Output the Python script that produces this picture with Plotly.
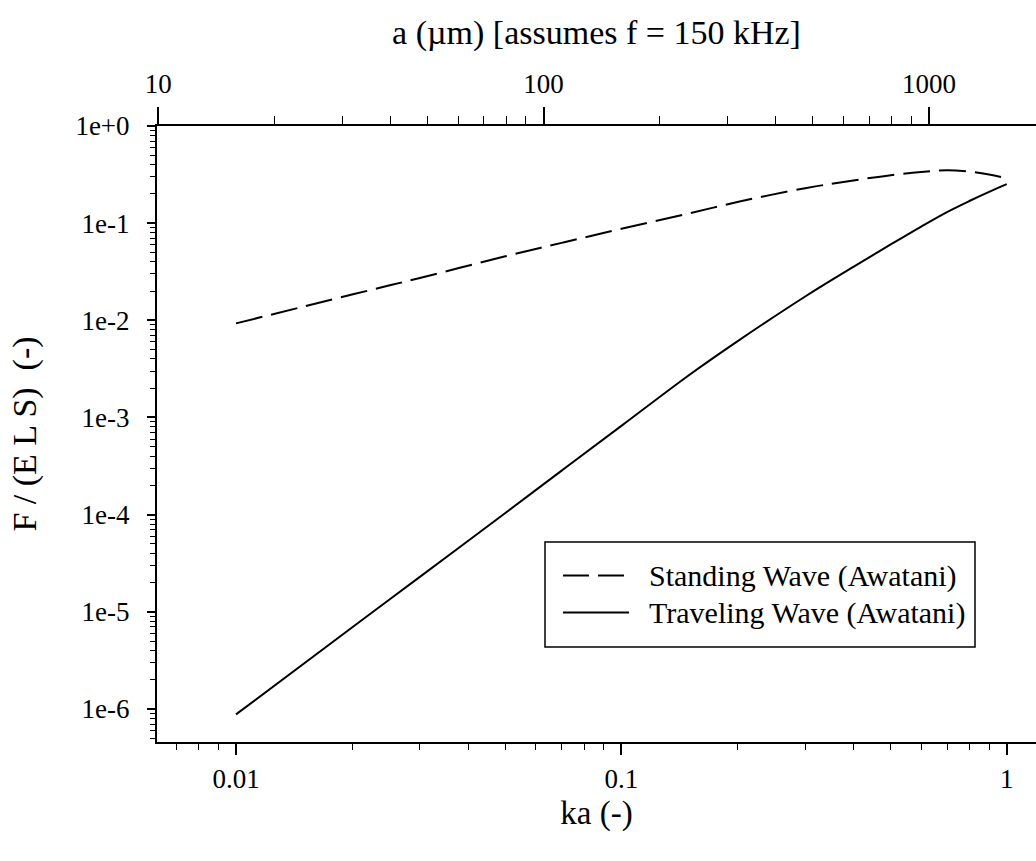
import math
import plotly.graph_objects as go

# ---- data ----
ka = [0.01, 0.02, 0.03, 0.05, 0.07, 0.1, 0.15, 0.2, 0.3, 0.4, 0.5, 0.6, 0.7, 0.8, 0.9, 1.0]
standing = [0.0093, 0.0184, 0.0273, 0.0456, 0.0627, 0.0875, 0.126, 0.165, 0.229,
            0.275, 0.312, 0.337, 0.350, 0.339, 0.317, 0.290]
traveling = [8.8e-7, 6.9e-6, 2.29e-5, 1.04e-4, 2.84e-4, 8.2e-4, 2.74e-3, 6.08e-3,
             0.0176, 0.0355, 0.0604, 0.0923, 0.130, 0.169, 0.210, 0.252]
series_names = ["Standing Wave (Awatani)", "Traveling Wave (Awatani)"]

x_tickvals = [0.01, 0.1, 1]
x_ticktext = ["0.01", "0.1", "1"]
top_tickvals = [10, 100, 1000]
top_ticktext = ["10", "100", "1000"]
y_tickvals = [1e-6, 1e-5, 1e-4, 1e-3, 1e-2, 1e-1, 1e0]
y_ticktext = ["1e-6", "1e-5", "1e-4", "1e-3", "1e-2", "1e-1", "1e+0"]

# a (um) = ka / k,  k = 2*pi*f/c  (f = 150 kHz, c = 1500 m/s)
f_hz = 150e3
c_um_s = 1500e6
k_um = 2 * math.pi * f_hz / c_um_s

x_range = [-2.205, 0.076]
y_range = [-6.34, 0.0]
top_range = [x_range[0] - math.log10(k_um), x_range[1] - math.log10(k_um)]

FONT = "Liberation Serif"

fig = go.Figure()
fig.add_trace(go.Scatter(x=ka, y=standing, mode="lines", name=series_names[0],
                         line=dict(color="black", width=2, dash="27px,9px", shape="spline"),
                         showlegend=False))
fig.add_trace(go.Scatter(x=ka, y=traveling, mode="lines", name=series_names[1],
                         line=dict(color="black", width=2, shape="spline"),
                         showlegend=False))
# carrier for the top axis
fig.add_trace(go.Scatter(x=[], y=[], xaxis="x2", yaxis="y", showlegend=False, hoverinfo="skip"))

W, H = 1036, 861
ml, mr, mt, mb = 157, 0, 126, 119
pw, ph = W - ml - mr, H - mt - mb


def px(xp):
    return (xp - ml) / pw


def py(yp):
    return (H - mb - yp) / ph


fig.update_layout(
    width=W, height=H,
    margin=dict(l=ml, r=mr, t=mt, b=mb, pad=0),
    paper_bgcolor="white", plot_bgcolor="white",
    font=dict(family=FONT, color="black", size=27),
    showlegend=False,
    xaxis=dict(
        type="log", range=x_range, showgrid=False, zeroline=False,
        showline=True, linecolor="black", linewidth=2,
        tickmode="array", tickvals=x_tickvals, ticktext=x_ticktext,
        ticks="outside", ticklen=11, tickwidth=1.5, tickcolor="black",
        ticklabelstandoff=1,
        tickfont=dict(size=27, family=FONT),
        minor=dict(dtick="D1", ticks="outside", ticklen=6, tickwidth=1.2,
                   tickcolor="black", showgrid=False),
        title=dict(text="ka (-)", font=dict(size=33, family=FONT), standoff=7),
        automargin=False,
    ),
    xaxis2=dict(
        type="log", range=top_range, overlaying="x", side="top", anchor="y",
        showgrid=False, zeroline=False,
        showline=True, linecolor="black", linewidth=2,
        tickmode="array", tickvals=top_tickvals, ticktext=top_ticktext,
        ticks="outside", ticklen=17, tickwidth=1.5, tickcolor="black",
        ticklabelstandoff=3,
        tickfont=dict(size=27, family=FONT),
        minor=dict(dtick="D1", ticks="outside", ticklen=8, tickwidth=1.2,
                   tickcolor="black", showgrid=False),
        title=dict(text="a (\u00b5m) [assumes f = 150 kHz]", font=dict(size=34, family=FONT),
                   standoff=14),
        automargin=False,
    ),
    yaxis=dict(
        type="log", range=y_range, showgrid=False, zeroline=False,
        showline=True, linecolor="black", linewidth=2,
        tickmode="array", tickvals=y_tickvals, ticktext=y_ticktext,
        ticks="outside", ticklen=8, tickwidth=1.5, tickcolor="black",
        ticklabelstandoff=12,
        tickfont=dict(size=27, family=FONT),
        minor=dict(dtick="D1", ticks="outside", ticklen=5, tickwidth=1.2,
                   tickcolor="black", showgrid=False),
        title=dict(text="F / (E L S)\u00a0\u00a0(-)", font=dict(size=34, family=FONT),
                   standoff=28),
        automargin=False,
    ),
)

# ---- legend box (drawn to match the reference layout) ----
fig.add_shape(type="rect", xref="paper", yref="paper",
              x0=px(545), x1=px(975), y0=py(647), y1=py(542),
              line=dict(color="black", width=1.5), fillcolor="white", layer="above")
fig.add_shape(type="line", xref="paper", yref="paper",
              x0=px(563), x1=px(625), y0=py(575.5), y1=py(575.5),
              line=dict(color="black", width=2, dash="26px,9px"))
fig.add_shape(type="line", xref="paper", yref="paper",
              x0=px(563), x1=px(629), y0=py(612.5), y1=py(612.5),
              line=dict(color="black", width=2))
for name, yy in zip(series_names, [575.5, 612.5]):
    fig.add_annotation(text=name, xref="paper", yref="paper", x=px(647), y=py(yy),
                       xanchor="left", yanchor="middle", showarrow=False,
                       font=dict(size=30, family=FONT, color="black"))

fig.write_html("out.html")
